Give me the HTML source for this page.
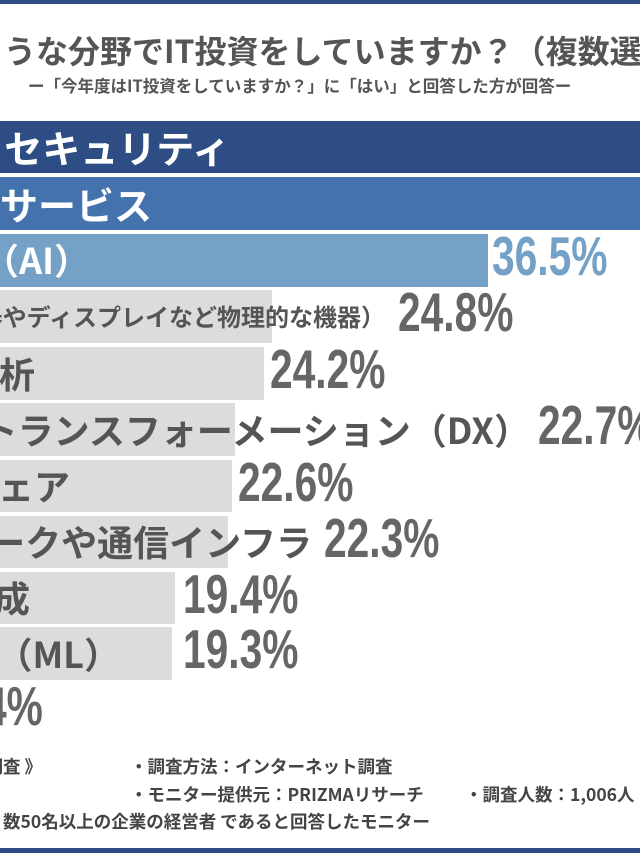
<!DOCTYPE html>
<html><head><meta charset="utf-8"><style>
body{margin:0;width:640px;height:853px;overflow:hidden;position:relative;background:#fff;font-family:"Liberation Sans","Noto Sans CJK JP",sans-serif;}
.a{position:absolute;white-space:nowrap;}
.bar{position:absolute;left:0;}
.l{position:absolute;white-space:nowrap;font-weight:bold;font-family:"Noto Sans CJK JP",sans-serif;line-height:1;}
.v{position:absolute;white-space:nowrap;font-weight:bold;font-family:"Liberation Sans",sans-serif;font-size:55px;color:#666;line-height:1;transform:scaleX(0.74);transform-origin:left top;}
.f{position:absolute;white-space:nowrap;font-weight:bold;font-size:17.5px;color:#444;font-family:"Noto Sans CJK JP",sans-serif;line-height:1;}
</style></head><body>
<div class="a" style="left:0;top:0;width:640px;height:4px;background:#2e4d85"></div>
<div class="l" style="left:4px;top:34px;font-size:32px;color:#555">うな分野でIT投資をしていますか？（複数選</div>
<div class="l" style="left:28px;top:77px;font-size:16.5px;color:#555">ー「今年度はIT投資をしていますか？」に「はい」と回答した方が回答ー</div>

<div class="bar" style="top:121px;height:52px;width:640px;background:#2e4d85"></div>
<div class="l" style="right:410px;top:128px;font-size:38px;color:#fff">セキュリティ</div>
<div class="bar" style="top:177px;height:53px;width:640px;background:#4472ad"></div>
<div class="l" style="right:488px;top:185px;font-size:38px;color:#fff">サービス</div>
<div class="bar" style="top:234px;height:53px;width:488px;background:#75a1c6"></div>
<div class="l" style="right:550px;top:241px;font-size:36px;color:#fff">（AI）</div>
<div class="v" style="left:492px;top:229px;color:#75a1c6">36.5%</div>

<div class="bar" style="top:290px;height:53px;width:272px;background:#dcdcdc"></div>
<div class="l" style="right:255px;top:304px;font-size:24px;color:#555">器やディスプレイなど物理的な機器）</div>
<div class="v" style="left:398px;top:285px">24.8%</div>

<div class="bar" style="top:347px;height:53px;width:264px;background:#dcdcdc"></div>
<div class="l" style="right:605px;top:355px;font-size:36px;color:#555">析</div>
<div class="v" style="left:270px;top:342px">24.2%</div>

<div class="bar" style="top:403px;height:53px;width:235px;background:#dcdcdc"></div>
<div class="l" style="right:110px;top:411px;font-size:36px;color:#555">トランスフォーメーション（DX）</div>
<div class="v" style="left:538px;top:398px">22.7%</div>

<div class="bar" style="top:460px;height:52px;width:232px;background:#dcdcdc"></div>
<div class="l" style="right:570px;top:467px;font-size:36px;color:#555">ェア</div>
<div class="v" style="left:238px;top:455px">22.6%</div>

<div class="bar" style="top:516px;height:52px;width:228px;background:#dcdcdc"></div>
<div class="l" style="right:328px;top:523px;font-size:36px;color:#555">ークや通信インフラ</div>
<div class="v" style="left:324px;top:511px">22.3%</div>

<div class="bar" style="top:572px;height:52px;width:175px;background:#dcdcdc"></div>
<div class="l" style="right:610px;top:579px;font-size:36px;color:#555">成</div>
<div class="v" style="left:183px;top:567px">19.4%</div>

<div class="bar" style="top:627px;height:53px;width:172px;background:#dcdcdc"></div>
<div class="l" style="right:520px;top:635px;font-size:36px;color:#555">（ML）</div>
<div class="v" style="left:183px;top:622px">19.3%</div>

<div class="v" style="left:-16px;top:679px">4%</div>

<div class="f" style="right:598px;top:758px">調査 》</div>
<div class="f" style="left:130px;top:758px">・調査方法：インターネット調査</div>
<div class="f" style="left:130px;top:786px">・モニター提供元：PRIZMAリサーチ</div>
<div class="f" style="left:465px;top:786px">・調査人数：1,006人</div>
<div class="f" style="right:210px;top:813px">数50名以上の企業の経営者 であると回答したモニター</div>
<div class="a" style="left:0;top:848px;width:640px;height:5px;background:#2e4d85"></div>
</body></html>
